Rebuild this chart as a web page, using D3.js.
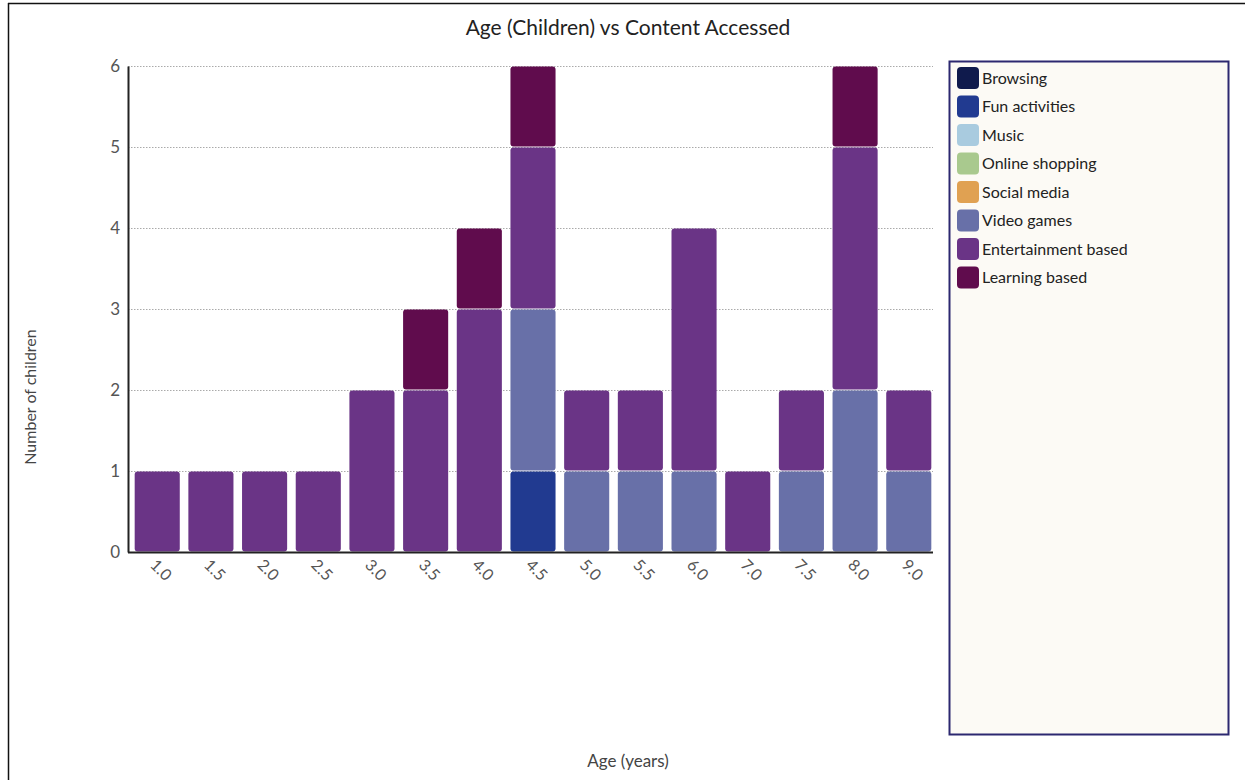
<!DOCTYPE html>
<html>
<head>
<meta charset="utf-8">
<script src="https://cdn.jsdelivr.net/npm/d3@7"></script>
<style>
  html, body { margin: 0; padding: 0; background: #fff; }
  svg { display: block; font-family: Lato, "Open Sans", sans-serif; }
</style>
</head>
<body>
<svg id="chart" width="1245" height="780"></svg>
<script>
// Age groups (x categories)
const ages = ["1.0","1.5","2.0","2.5","3.0","3.5","4.0","4.5","5.0","5.5","6.0","7.0","7.5","8.0","9.0"];

// Content categories, stacked bottom to top
const contentTypes = ["Browsing","Fun activities","Music","Online shopping","Social media","Video games","Entertainment based","Learning based"];
const contentColors = ["#0f1a4c","#213a90","#a9cbdf","#a9c98e","#e0a152","#6870a8","#6a3486","#600c4d"];

// Number of children per age for each content type
const browsing        = [0,0,0,0,0,0,0,0,0,0,0,0,0,0,0];
const funActivities   = [0,0,0,0,0,0,0,1,0,0,0,0,0,0,0];
const music           = [0,0,0,0,0,0,0,0,0,0,0,0,0,0,0];
const onlineShopping  = [0,0,0,0,0,0,0,0,0,0,0,0,0,0,0];
const socialMedia     = [0,0,0,0,0,0,0,0,0,0,0,0,0,0,0];
const videoGames      = [0,0,0,0,0,0,0,2,1,1,1,0,1,2,1];
const entertainment   = [1,1,1,1,2,2,3,2,1,1,3,1,1,3,1];
const learning        = [0,0,0,0,0,1,1,1,0,0,0,0,0,1,0];

const yTicks = [0,1,2,3,4,5,6];

const seriesValues = [browsing, funActivities, music, onlineShopping, socialMedia, videoGames, entertainment, learning];

const rows = ages.map((a, i) => {
  const r = { age: a };
  contentTypes.forEach((c, k) => { r[c] = seriesValues[k][i]; });
  return r;
});

const svg = d3.select("#chart");

// page frame
svg.append("line").attr("x1", 8.5).attr("x2", 8.5).attr("y1", 3).attr("y2", 780)
  .attr("stroke", "#111").attr("stroke-width", 1.5);
svg.append("line").attr("x1", 8).attr("x2", 1245).attr("y1", 3.5).attr("y2", 3.5)
  .attr("stroke", "#111").attr("stroke-width", 1.5);

const plot = { left: 128, right: 933, top: 66, bottom: 552 };

const x = d3.scaleBand().domain(ages).range([132, 934]).paddingInner(0.16).paddingOuter(0.05);
const y = d3.scaleLinear().domain([0, 6]).range([plot.bottom, plot.top]);
const color = d3.scaleOrdinal().domain(contentTypes).range(contentColors);

// title
svg.append("text").attr("x", 628).attr("y", 35).attr("text-anchor", "middle")
  .attr("font-size", 21).attr("fill", "#222").text("Age (Children) vs Content Accessed");

// gridlines
svg.append("g").selectAll("line").data(yTicks.filter(t => t > 0)).join("line")
  .attr("x1", plot.left).attr("x2", plot.right)
  .attr("y1", d => y(d) + 0.5).attr("y2", d => y(d) + 0.5)
  .attr("stroke", "#aaa").attr("stroke-width", 1).attr("stroke-dasharray", "1.5,1.5");

// stacked bars
const stack = d3.stack().keys(contentTypes)(rows);
svg.append("g").selectAll("g").data(stack).join("g")
  .attr("fill", d => color(d.key))
  .selectAll("rect").data(d => d.filter(s => s[1] - s[0] > 0)).join("rect")
  .attr("x", d => x(d.data.age))
  .attr("width", x.bandwidth())
  .attr("y", d => y(d[1]) + 0.5)
  .attr("height", d => y(d[0]) - y(d[1]) - 1)
  .attr("rx", 3).attr("ry", 3);

// y axis
const yAxis = svg.append("g").attr("transform", `translate(${plot.left},0)`)
  .call(d3.axisLeft(y).tickValues(yTicks).tickSize(0).tickPadding(8).tickFormat(d3.format("d")));
yAxis.select(".domain").attr("stroke", "#222").attr("stroke-width", 2);
yAxis.selectAll("text").attr("font-size", 17).attr("fill", "#555").attr("font-family", "Lato, sans-serif");

// x axis
const xAxis = svg.append("g").attr("transform", `translate(0,${plot.bottom})`)
  .call(d3.axisBottom(x).tickSize(0).tickPadding(0));
xAxis.select(".domain").attr("d", `M${plot.left},0.5H${plot.right}`).attr("stroke", "#222").attr("stroke-width", 2);
xAxis.selectAll("text")
  .attr("font-size", 16).attr("fill", "#555").attr("font-family", "Lato, sans-serif")
  .attr("text-anchor", "start").attr("dy", null).attr("y", 0)
  .attr("transform", "translate(-8,14) rotate(45)");

// axis titles
svg.append("text").attr("transform", "translate(36,397) rotate(-90)")
  .attr("text-anchor", "middle").attr("font-size", 16).attr("fill", "#444").text("Number of children");
svg.append("text").attr("x", 628).attr("y", 767).attr("text-anchor", "middle")
  .attr("font-size", 17).attr("fill", "#444").text("Age (years)");

// legend
const lg = svg.append("g");
lg.append("rect").attr("x", 949.5).attr("y", 61.5).attr("width", 279).attr("height", 673)
  .attr("fill", "#fcfaf5").attr("stroke", "#2c2870").attr("stroke-width", 2);
const items = lg.selectAll("g.item").data(contentTypes).join("g").attr("class", "item")
  .attr("transform", (d, i) => `translate(957,${67 + i * 28.5})`);
items.append("rect").attr("width", 22).attr("height", 22).attr("rx", 4).attr("fill", d => color(d));
items.append("text").attr("x", 25).attr("y", 16.5).attr("font-size", 16).attr("fill", "#222").text(d => d);
</script>
</body>
</html>
